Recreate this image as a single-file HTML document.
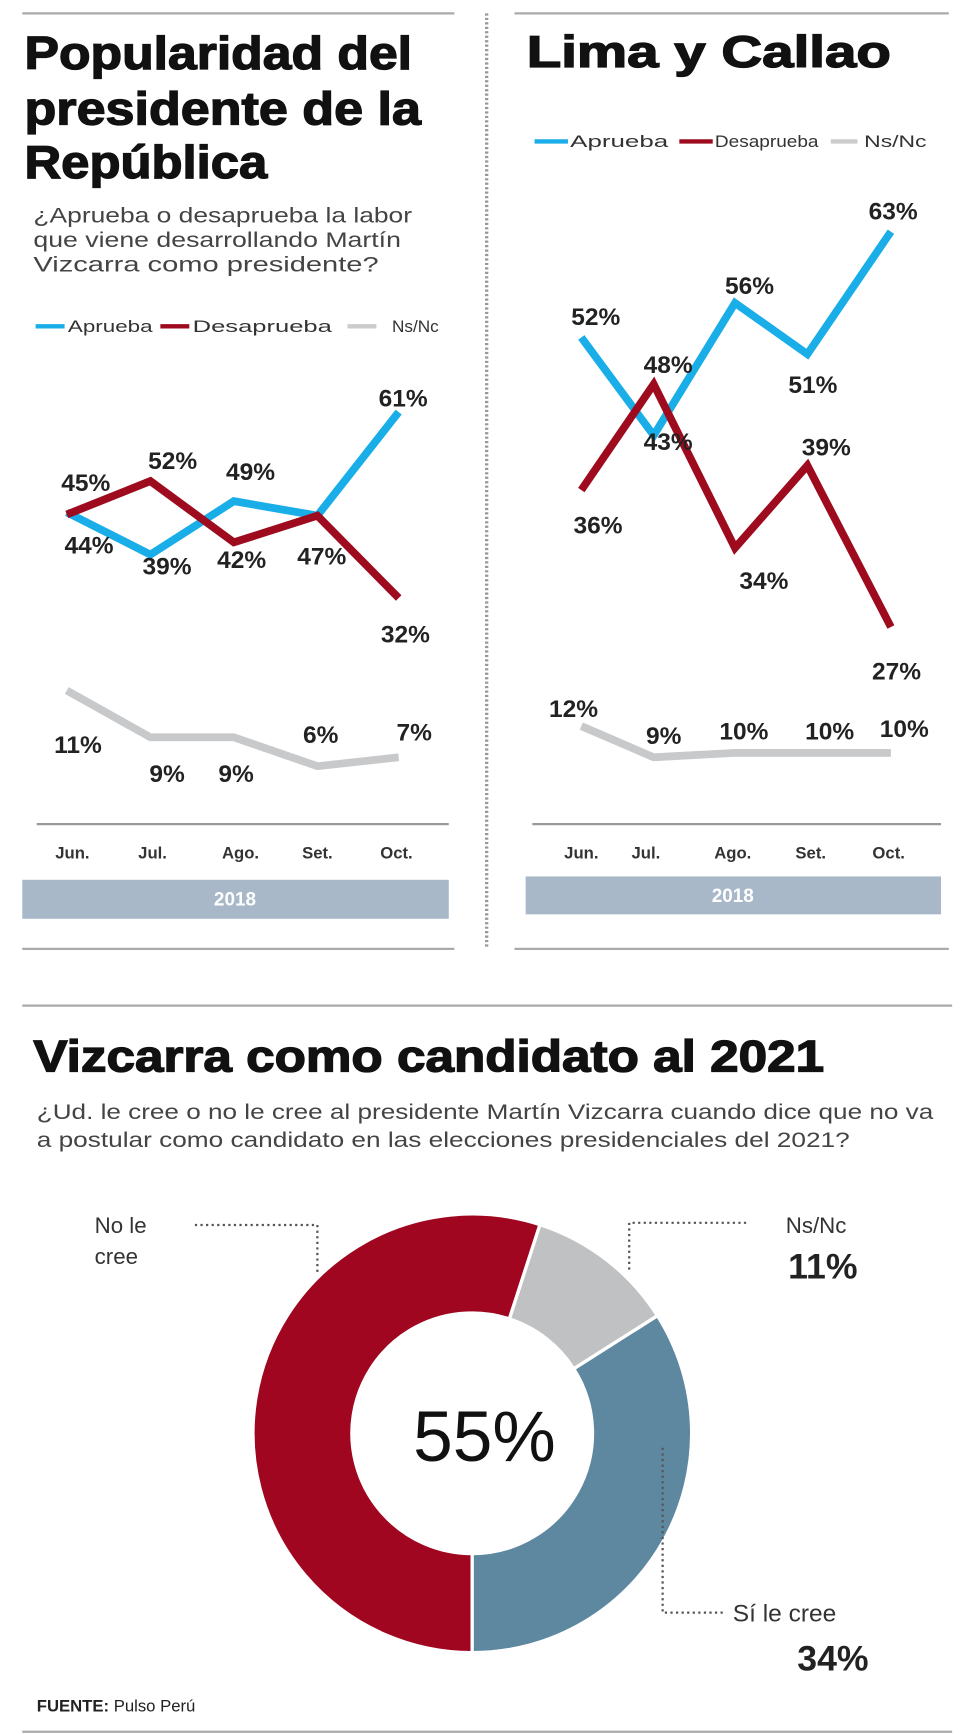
<!DOCTYPE html>
<html><head><meta charset="utf-8"><style>
html,body{margin:0;padding:0;background:#fff}
svg{display:block}
text{font-family:"Liberation Sans",sans-serif}
.t{font-weight:bold;fill:#111;stroke:#111;stroke-width:1.2}
.v{font-weight:bold;font-size:22px;fill:#222}
.m{font-size:15px;fill:#333;font-weight:bold}
.s{font-size:19px;fill:#444}
.lg{font-size:15px;fill:#333}
</style></head><body>
<svg width="980" height="1734" viewBox="0 0 880 1557" preserveAspectRatio="none" xmlns="http://www.w3.org/2000/svg">
<g stroke="#aaa" stroke-width="2">
<line x1="20" y1="12" x2="408" y2="12"/><line x1="462" y1="12" x2="852" y2="12"/>
<line x1="20" y1="852" x2="408" y2="852"/><line x1="462" y1="852" x2="852" y2="852"/>
<line x1="20" y1="903" x2="855" y2="903"/><line x1="20" y1="1555" x2="855" y2="1555"/>
</g>
<line x1="437" y1="12" x2="437" y2="850" stroke="#999" stroke-width="3" stroke-dasharray="2,2"/>
<text class="t" x="22" y="62" font-size="42" textLength="348" lengthAdjust="spacingAndGlyphs">Popularidad del</text>
<text class="t" x="22" y="112" font-size="42" textLength="356" lengthAdjust="spacingAndGlyphs">presidente de la</text>
<text class="t" x="22" y="160" font-size="42" textLength="218" lengthAdjust="spacingAndGlyphs">República</text>
<text class="s" x="30" y="200" textLength="340" lengthAdjust="spacingAndGlyphs">¿Aprueba o desaprueba la labor</text>
<text class="s" x="30" y="222" textLength="330" lengthAdjust="spacingAndGlyphs">que viene desarrollando Martín</text>
<text class="s" x="30" y="244" textLength="310" lengthAdjust="spacingAndGlyphs">Vizcarra como presidente?</text>
<line x1="32" y1="293" x2="58" y2="293" stroke="#1aaee8" stroke-width="4"/>
<text class="lg" x="61" y="298" textLength="76" lengthAdjust="spacingAndGlyphs">Aprueba</text>
<line x1="144" y1="293" x2="170" y2="293" stroke="#9e0a1e" stroke-width="4"/>
<text class="lg" x="173" y="298" textLength="125" lengthAdjust="spacingAndGlyphs">Desaprueba</text>
<line x1="312" y1="293" x2="338" y2="293" stroke="#ccc" stroke-width="4"/>
<text class="lg" x="352" y="298" textLength="42" lengthAdjust="spacingAndGlyphs">Ns/Nc</text>
<g fill="none" stroke-width="7" stroke-linejoin="miter">
<polyline points="60,460 135,498 210,450 285,463 358,370" stroke="#1aaee8"/>
<polyline points="60,462 135,432 210,487 285,463 358,537" stroke="#9e0a1e"/>
<polyline points="60,620 135,662 210,662 285,688 358,680" stroke="#c8c9cb"/>
</g>
<g text-anchor="middle">
<text x="77" y="441" class="v">45%</text><text x="155" y="421" class="v">52%</text>
<text x="225" y="431" class="v">49%</text><text x="362" y="365" class="v">61%</text>
<text x="80" y="497" class="v">44%</text><text x="150" y="516" class="v">39%</text>
<text x="217" y="510" class="v">42%</text><text x="289" y="507" class="v">47%</text>
<text x="364" y="577" class="v">32%</text><text x="70" y="676" class="v">11%</text>
<text x="150" y="702" class="v">9%</text><text x="212" y="702" class="v">9%</text>
<text x="288" y="667" class="v">6%</text><text x="372" y="665" class="v">7%</text>
</g>
<line x1="33" y1="740" x2="403" y2="740" stroke="#999" stroke-width="2"/>
<g text-anchor="middle"><text class="m" x="65" y="771">Jun.</text><text class="m" x="137" y="771">Jul.</text><text class="m" x="216" y="771">Ago.</text><text class="m" x="285" y="771">Set.</text><text class="m" x="356" y="771">Oct.</text></g>
<rect x="20" y="790" width="383" height="35" fill="#a8b8c8"/>
<text x="211" y="813" text-anchor="middle" font-size="17" fill="#fff" font-weight="bold">2018</text>
<text class="t" x="473" y="60" font-size="40" textLength="327" lengthAdjust="spacingAndGlyphs">Lima y Callao</text>
<line x1="480" y1="127" x2="510" y2="127" stroke="#1aaee8" stroke-width="4"/>
<text class="lg" x="512" y="132" textLength="88" lengthAdjust="spacingAndGlyphs">Aprueba</text>
<line x1="610" y1="127" x2="640" y2="127" stroke="#9e0a1e" stroke-width="4"/>
<text class="lg" x="642" y="132" textLength="93" lengthAdjust="spacingAndGlyphs">Desaprueba</text>
<line x1="746" y1="127" x2="770" y2="127" stroke="#ccc" stroke-width="4"/>
<text class="lg" x="776" y="132" textLength="56" lengthAdjust="spacingAndGlyphs">Ns/Nc</text>
<g fill="none" stroke-width="7">
<polyline points="522,303 587,391 660,272 725,318 800,208" stroke="#1aaee8"/>
<polyline points="522,440 587,345 660,492 725,418 800,563" stroke="#9e0a1e"/>
<polyline points="522,652 587,680 660,676 725,676 800,676" stroke="#c8c9cb"/>
</g>
<g text-anchor="middle">
<text x="535" y="292" class="v">52%</text><text x="600" y="335" class="v">48%</text>
<text x="673" y="264" class="v">56%</text><text x="802" y="197" class="v">63%</text>
<text x="730" y="353" class="v">51%</text><text x="600" y="404" class="v">43%</text>
<text x="742" y="409" class="v">39%</text><text x="537" y="479" class="v">36%</text>
<text x="686" y="529" class="v">34%</text><text x="805" y="610" class="v">27%</text>
<text x="515" y="644" class="v">12%</text><text x="596" y="668" class="v">9%</text>
<text x="668" y="664" class="v">10%</text><text x="745" y="664" class="v">10%</text>
<text x="812" y="662" class="v">10%</text>
</g>
<line x1="478" y1="740" x2="845" y2="740" stroke="#999" stroke-width="2"/>
<g text-anchor="middle"><text class="m" x="522" y="771">Jun.</text><text class="m" x="580" y="771">Jul.</text><text class="m" x="658" y="771">Ago.</text><text class="m" x="728" y="771">Set.</text><text class="m" x="798" y="771">Oct.</text></g>
<rect x="472" y="787" width="373" height="34" fill="#a8b8c8"/>
<text x="658" y="810" text-anchor="middle" font-size="17" fill="#fff" font-weight="bold">2018</text>
<text class="t" x="30" y="962" font-size="40" textLength="710" lengthAdjust="spacingAndGlyphs">Vizcarra como candidato al 2021</text>
<text class="s" x="33" y="1005" textLength="805" lengthAdjust="spacingAndGlyphs">¿Ud. le cree o no le cree al presidente Martín Vizcarra cuando dice que no va</text>
<text class="s" x="33" y="1030" textLength="730" lengthAdjust="spacingAndGlyphs">a postular como candidato en las elecciones presidenciales del 2021?</text>
<g stroke="#fff" stroke-width="3">
<path d="M424,1484 A197,197 0 1 1 484.9,1099.6 L457.4,1184.3 A108,108 0 1 0 424,1395 Z" fill="#a0061f"/>
<path d="M484.9,1099.6 A197,197 0 0 1 590.4,1181.4 L515.2,1229.1 A108,108 0 0 0 457.4,1184.3 Z" fill="#bfc1c3"/>
<path d="M590.4,1181.4 A197,197 0 0 1 424,1484 L424,1395 A108,108 0 0 0 515.2,1229.1 Z" fill="#5e88a0"/>
</g>
<text x="435" y="1312" text-anchor="middle" font-size="64" fill="#111" textLength="128" lengthAdjust="spacingAndGlyphs">55%</text>
<g fill="none" stroke="#555" stroke-width="2" stroke-dasharray="2,3">
<polyline points="175,1100 285,1100 285,1145"/>
<polyline points="670,1098 565,1098 565,1140"/>
<polyline points="595,1300 595,1448 650,1448"/>
</g>
<text x="85" y="1107" font-size="20" fill="#333">No le</text>
<text x="85" y="1135" font-size="20" fill="#333">cree</text>
<text x="760" y="1107" font-size="20" fill="#333" text-anchor="end">Ns/Nc</text>
<text x="770" y="1148" font-size="32" font-weight="bold" fill="#222" text-anchor="end">11%</text>
<text x="658" y="1456" font-size="22" fill="#333">Sí le cree</text>
<text x="780" y="1500" font-size="32" font-weight="bold" fill="#222" text-anchor="end">34%</text>
<text x="33" y="1537" font-size="15" fill="#222"><tspan font-weight="bold">FUENTE:</tspan> Pulso Perú</text>
</svg>
</body></html>
